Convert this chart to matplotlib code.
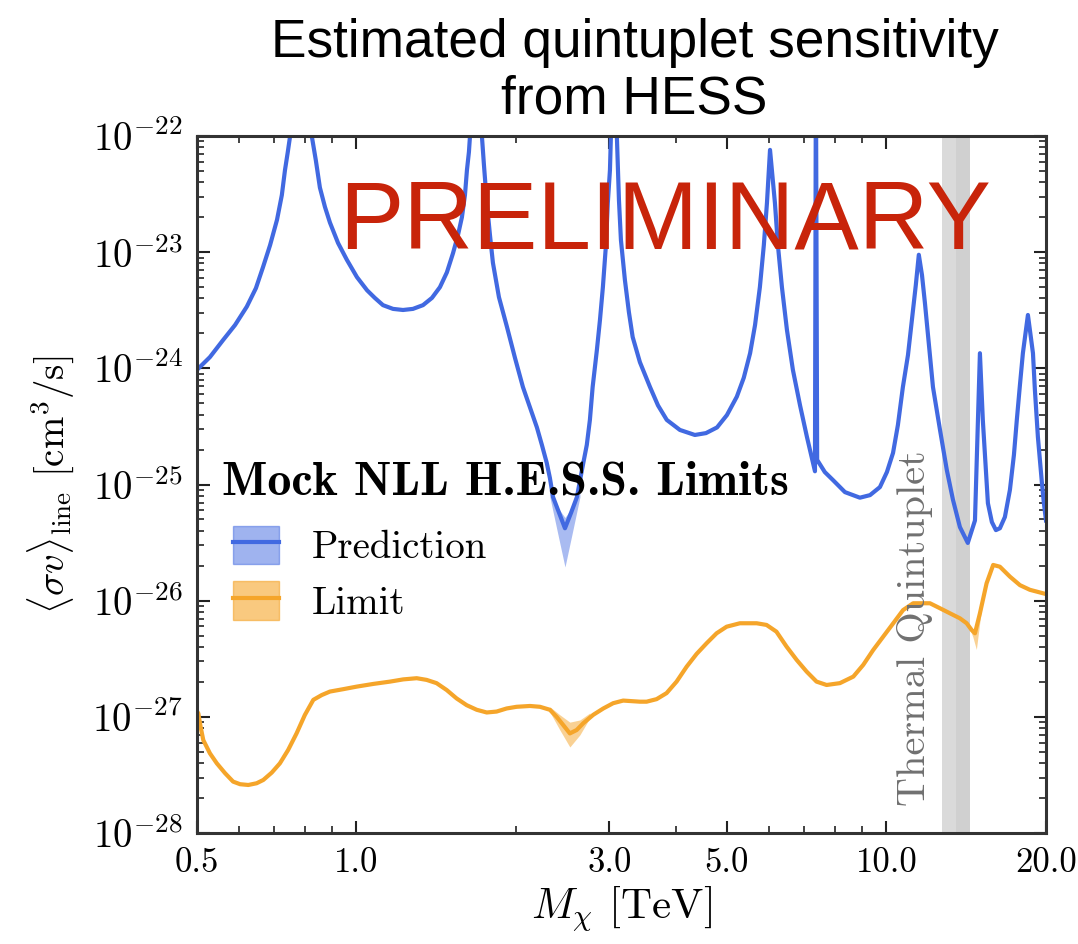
import matplotlib
matplotlib.use("Agg")
import matplotlib.pyplot as plt
import numpy as np
from matplotlib.patches import Patch
from matplotlib.lines import Line2D
from matplotlib.ticker import FixedLocator, NullFormatter, LogLocator

plt.rcParams['mathtext.fontset'] = 'cm'
plt.rcParams['font.family'] = 'cmr10'
plt.rcParams['axes.formatter.use_mathtext'] = True

# prediction curve (TeV, cm^3/s)
pred_mass = [0.50, 0.529, 0.56, 0.590, 0.621, 0.646, 0.666, 0.687, 0.708, 0.723, 0.733, 0.742,
             0.749, 0.78, 0.824, 0.838, 0.853, 0.872, 0.891, 0.923, 0.959, 1.002, 1.047, 1.083,
             1.122, 1.172, 1.224, 1.278, 1.335, 1.388, 1.437, 1.481, 1.521, 1.554, 1.581, 1.602,
             1.616, 1.630, 1.637, 1.68, 1.725, 1.740, 1.762, 1.786, 1.809, 1.857, 1.923, 1.991,
             2.061, 2.125, 2.19, 2.238, 2.286, 2.317, 2.349, 2.474, 2.54, 2.606, 2.663, 2.72,
             2.757, 2.79, 2.842, 2.88, 2.917, 2.956, 2.98, 3.008, 3.02, 3.06, 3.10, 3.128, 3.155,
             3.21, 3.266, 3.32, 3.426, 3.58, 3.706, 3.85, 4.076, 4.35, 4.565, 4.79, 5.0, 5.22,
             5.38, 5.53, 5.65, 5.77, 5.87, 5.95, 6.00, 6.03, 6.08, 6.16, 6.24, 6.35, 6.49, 6.66,
             6.87, 7.08, 7.23, 7.33, 7.36, 7.40, 7.65, 7.93, 8.35, 8.91, 9.31, 9.72, 10.02,
             10.29, 10.51, 10.74, 10.98, 11.17, 11.36, 11.51, 11.67, 11.82, 12.03, 12.24, 12.62,
             13.0, 13.35, 13.76, 14.24, 14.69, 14.88, 15.01, 15.2, 15.4, 15.54, 15.81, 16.09,
             16.37, 16.73, 17.1, 17.4, 17.62, 17.86, 18.09, 18.33, 18.49, 18.65, 18.9, 19.06,
             19.31, 19.48, 19.65, 19.82, 20.0]
pred_sv = [9.7e-25, 1.25e-24, 1.75e-24, 2.36e-24, 3.4e-24, 4.9e-24, 7.4e-24, 1.15e-23, 1.9e-23,
           3.1e-23, 5.1e-23, 7.3e-23, 9.8e-23, 4e-22, 9.8e-23, 6.2e-23, 3.6e-23, 2.45e-23,
           1.8e-23, 1.2e-23, 8.6e-24, 6.1e-24, 4.7e-24, 4.04e-24, 3.5e-24, 3.25e-24, 3.18e-24,
           3.25e-24, 3.5e-24, 4.04e-24, 5.0e-24, 6.7e-24, 9.8e-24, 1.4e-23, 2.0e-23, 3.1e-23,
           5.1e-23, 7.3e-23, 9.8e-23, 4e-22, 9.8e-23, 5.6e-23, 2.65e-23, 1.4e-23, 8.1e-24,
           4.1e-24, 2.27e-24, 1.23e-24, 6.9e-25, 4.6e-25, 3.1e-25, 2.19e-25, 1.53e-25, 1.14e-25,
           7.8e-26, 4.2e-26, 5.7e-26, 7.8e-26, 1.33e-25, 2.19e-25, 3.6e-25, 6.9e-25, 1.44e-24,
           2.6e-24, 5.0e-24, 1.15e-23, 2.65e-23, 5.1e-23, 9.8e-23, 4e-22, 9.8e-23, 2.8e-23,
           1.27e-23, 5.75e-24, 3.05e-24, 1.86e-24, 1.13e-24, 6.9e-25, 4.8e-25, 3.6e-25,
           2.95e-25, 2.67e-25, 2.77e-25, 3.1e-25, 3.96e-25, 5.7e-25, 8.3e-25, 1.35e-24,
           2.36e-24, 5.0e-24, 1.15e-23, 2.65e-23, 5.1e-23, 7.6e-23, 5.1e-23, 2.65e-23, 1.15e-23,
           5.0e-24, 2.14e-24, 9.7e-25, 4.8e-25, 2.56e-25, 1.69e-25, 1.3e-25, 5e-22, 1.63e-25,
           1.28e-25, 1.09e-25, 8.6e-26, 7.7e-26, 8.1e-26, 9.5e-26, 1.28e-25, 1.87e-25, 3.25e-25,
           6.9e-25, 1.3e-24, 2.6e-24, 5.2e-24, 9.5e-24, 6.35e-24, 3.65e-24, 1.59e-24, 6.9e-25,
           2.95e-25, 1.33e-25, 7.4e-26, 4.3e-26, 3.14e-26, 4.9e-26, 3.6e-25, 1.35e-24, 3.6e-25,
           1.33e-25, 6.9e-26, 4.75e-26, 4.05e-26, 4.2e-26, 5.25e-26, 9.0e-26, 1.8e-25, 3.6e-25,
           7.2e-25, 1.35e-24, 2.14e-24, 2.88e-24, 2.14e-24, 1.35e-24, 6.5e-25, 2.56e-25,
           1.63e-25, 1.03e-25, 6.9e-26, 4.9e-26]

# prediction uncertainty band near the 2.5 TeV dip
dip_mass = [2.317, 2.394, 2.474, 2.556, 2.64]
dip_lo = [7.8e-26, 3.9e-26, 1.95e-26, 3.9e-26, 7.8e-26]
dip_hi = [8.5e-26, 6.4e-26, 5.2e-26, 6.4e-26, 8.5e-26]

# limit curve
lim_mass = [0.50, 0.503, 0.508, 0.514, 0.529, 0.545, 0.565, 0.585, 0.603, 0.625, 0.648, 0.667,
            0.692, 0.717, 0.743, 0.771, 0.799, 0.829, 0.860, 0.891, 0.944, 1.001, 1.076, 1.157,
            1.225, 1.299, 1.356, 1.416, 1.480, 1.545, 1.614, 1.686, 1.761, 1.838, 1.920, 2.005,
            2.125, 2.219, 2.317, 2.386, 2.455, 2.527, 2.603, 2.678, 2.797, 2.922, 3.05, 3.186,
            3.426, 3.527, 3.684, 3.847, 4.018, 4.197, 4.383, 4.578, 4.781, 4.994, 5.29, 5.69,
            5.94, 6.20, 6.48, 6.77, 7.07, 7.38, 7.71, 8.17, 8.66, 9.04, 9.44, 9.86, 10.30,
            10.75, 11.23, 12.08, 12.62, 13.18, 13.76, 14.17, 14.48, 14.69, 15.01, 15.45, 15.90,
            16.37, 17.10, 17.86, 18.65, 20.0]
lim_sv = [1.12e-27, 1.07e-27, 8.2e-28, 6.3e-28, 4.85e-28, 3.98e-28, 3.27e-28, 2.77e-28, 2.63e-28,
          2.59e-28, 2.68e-28, 2.86e-28, 3.31e-28, 3.98e-28, 5.18e-28, 7.22e-28, 1.037e-27,
          1.40e-27, 1.54e-27, 1.65e-27, 1.73e-27, 1.82e-27, 1.92e-27, 2.01e-27, 2.10e-27,
          2.15e-27, 2.08e-27, 1.95e-27, 1.70e-27, 1.44e-27, 1.26e-27, 1.15e-27, 1.09e-27,
          1.11e-27, 1.18e-27, 1.22e-27, 1.24e-27, 1.22e-27, 1.15e-27, 1.00e-27, 8.5e-28,
          7.2e-28, 7.7e-28, 8.8e-28, 1.04e-27, 1.18e-27, 1.31e-27, 1.38e-27, 1.35e-27, 1.35e-27,
          1.42e-27, 1.60e-27, 2.01e-27, 2.70e-27, 3.48e-27, 4.30e-27, 5.24e-27, 5.97e-27,
          6.39e-27, 6.39e-27, 6.18e-27, 5.41e-27, 4.02e-27, 3.09e-27, 2.45e-27, 2.01e-27,
          1.88e-27, 1.95e-27, 2.22e-27, 2.80e-27, 3.76e-27, 4.90e-27, 6.39e-27, 8.3e-27,
          9.5e-27, 9.5e-27, 8.6e-27, 7.78e-27, 7.05e-27, 6.39e-27, 5.59e-27, 5.24e-27, 7.78e-27,
          1.41e-26, 2.03e-26, 1.96e-26, 1.61e-26, 1.36e-26, 1.24e-26, 1.14e-26]

# limit bands (2.5 TeV and 14.7 TeV)
lb1_mass = [2.317, 2.42, 2.527, 2.64, 2.757]
lb1_lo = [1.10e-27, 7.7e-28, 5.5e-28, 7.0e-28, 9.8e-28]
lb1_hi = [1.22e-27, 1.04e-27, 9.0e-28, 9.4e-28, 1.08e-27]
lb2_mass = [14.3, 14.55, 14.78, 15.0, 15.2]
lb2_lo = [6.0e-27, 4.9e-27, 3.8e-27, 6.5e-27, 1.0e-26]
lb2_hi = [6.3e-27, 5.6e-27, 5.4e-27, 8.2e-27, 1.15e-26]

thermal_outer = (12.73, 14.37)
thermal_inner = (13.55, 14.37)

xtick_vals = [0.5, 1.0, 3.0, 5.0, 10.0, 20.0]
xtick_labels = ['0.5', '1.0', '3.0', '5.0', '10.0', '20.0']

blue = '#4169e1'
orange = '#f5a52a'

fig = plt.figure(figsize=(10.78, 9.44), dpi=100)
ax = fig.add_axes([0.1827, 0.1176, 0.7876, 0.7383])

ax.axvspan(*thermal_outer, color='#dadada', lw=0, zorder=0)
ax.axvspan(*thermal_inner, color='#d0d0d0', lw=0, zorder=0)
ax.text(11.3, 1.72e-28, 'Thermal Quintuplet', rotation=90, color='#707070',
        fontsize=29, ha='center', va='bottom')

ax.fill_between(dip_mass, dip_lo, dip_hi, color=blue, alpha=0.45, lw=0)
ax.plot(pred_mass, pred_sv, color=blue, lw=3.0, solid_joinstyle='round')

ax.fill_between(lb1_mass, lb1_lo, lb1_hi, color=orange, alpha=0.5, lw=0)
ax.fill_between(lb2_mass, lb2_lo, lb2_hi, color=orange, alpha=0.5, lw=0)
ax.plot(lim_mass, lim_sv, color=orange, lw=3.0, solid_joinstyle='round')

ax.set_xscale('log')
ax.set_yscale('log')
ax.set_xlim(0.5, 20.0)
ax.set_ylim(1e-28, 1e-22)

ax.xaxis.set_major_locator(FixedLocator(xtick_vals))
ax.set_xticklabels(xtick_labels)
ax.xaxis.set_minor_locator(FixedLocator([0.6, 0.7, 0.8, 0.9, 2, 4, 6, 7, 8, 9]))
ax.xaxis.set_minor_formatter(NullFormatter())
ax.yaxis.set_major_locator(LogLocator(base=10, numticks=10))
ax.yaxis.set_minor_locator(LogLocator(base=10, subs=np.arange(2, 10), numticks=20))
ax.yaxis.set_minor_formatter(NullFormatter())
ax.tick_params(which='both', direction='in', top=True, right=True, color='#222222')
ax.tick_params(axis='x', labelsize=25)
ax.tick_params(axis='y', labelsize=28)
ax.tick_params(which='major', length=9, width=1.5, pad=10)
ax.tick_params(which='minor', length=5, width=1.2)
for s in ax.spines.values():
    s.set_linewidth(2.2)
    s.set_color('#333333')

ax.set_xlabel(r'$M_\chi$ [TeV]', fontsize=31, labelpad=4)
ax.set_ylabel(r'$\langle \sigma v\rangle_{\rm line}$ [cm$^3$/s]', fontsize=28, labelpad=12)

# legend: bold title as its own text, entries below
ax.text(0.0294, 0.485, 'Mock NLL H.E.S.S. Limits', transform=ax.transAxes,
        family='cmb10', fontsize=34.5, ha='left', va='baseline')
handles = [(Patch(facecolor=blue, alpha=0.5, edgecolor=blue), Line2D([], [], color=blue, lw=3)),
           (Patch(facecolor=orange, alpha=0.6, edgecolor=orange), Line2D([], [], color=orange, lw=3))]
ax.legend(handles, ['Prediction', 'Limit'], loc='upper left', bbox_to_anchor=(0.0424, 0.441),
          frameon=False, fontsize=28, handlelength=1.18, handleheight=1.16,
          handletextpad=0.85, labelspacing=0.39, borderpad=0, borderaxespad=0)

fig.text(0.5886, 0.9396, 'Estimated quintuplet sensitivity', ha='center', va='baseline',
         fontsize=38.3, family='Liberation Sans')
fig.text(0.5886, 0.880, 'from HESS', ha='center', va='baseline', fontsize=38.3,
         family='Liberation Sans')
fig.text(0.315, 0.737, 'PRELIMINARY', ha='left', va='baseline', fontsize=69.5,
         family='Liberation Sans', color='#c8240a')

fig.savefig('out.png', dpi=100)
